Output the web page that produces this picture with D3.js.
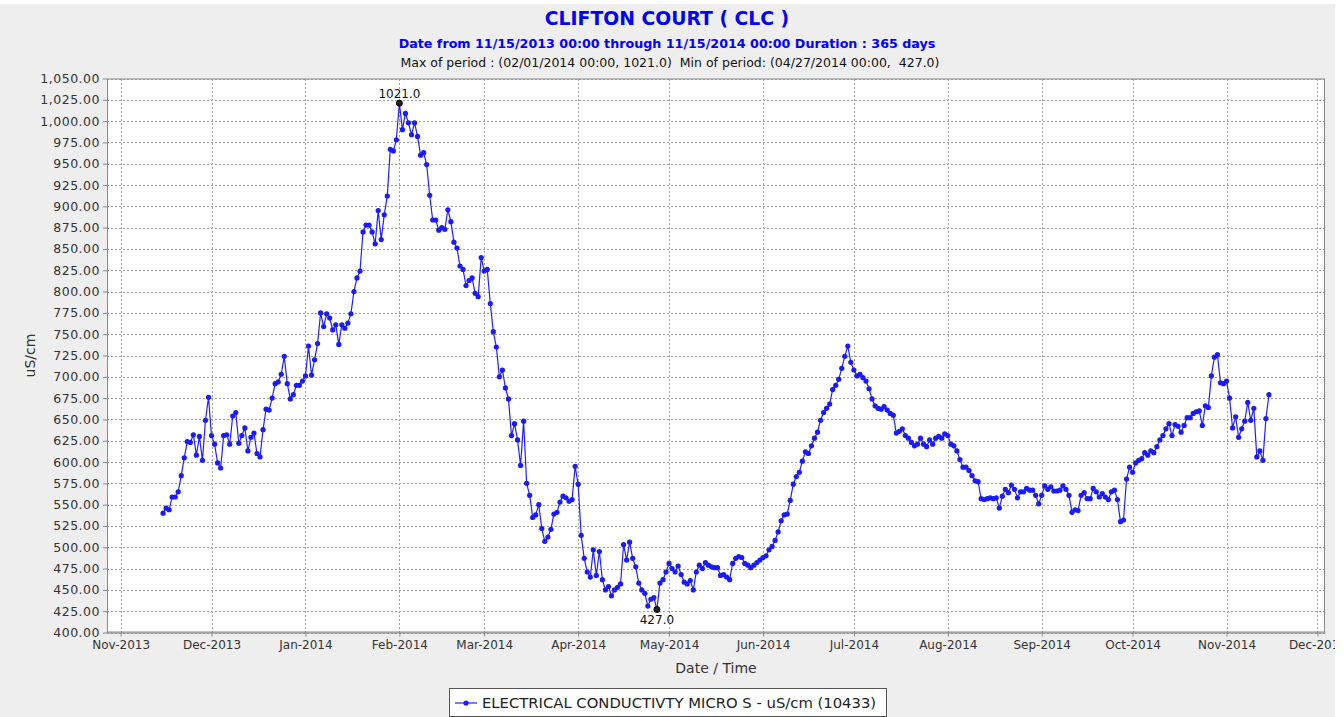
<!DOCTYPE html>
<html>
<head>
<meta charset="utf-8">
<script src="https://cdn.jsdelivr.net/npm/d3@7"></script>
<style>
  body { margin: 0; background: #fff; }
  svg { display: block; font-family: "DejaVu Sans", sans-serif; }
</style>
</head>
<body>
<div id="chart"></div>
<script>
// Daily EC readings (uS/cm), one array per month, first value on the given start day
const nov2013 = [540, 546, 544, 559, 559, 565, 584, 605, 624, 623, 632, 608, 630, 602, 649, 676];
const dec2013 = [631, 621, 599, 593, 631, 632, 621, 654, 658, 622, 631, 640, 613, 629, 634, 610,
                 606, 638, 662, 661, 675, 692, 694, 703, 724, 692, 674, 679, 690, 690, 695];
const jan2014 = [701, 736, 702, 720, 739, 775, 759, 774, 769, 755, 761, 738, 761, 757, 763, 774,
                 800, 816, 824, 870, 878, 878, 870, 856, 895, 861, 890, 912, 967, 965, 978];
const feb2014 = [1021, 990, 1009, 998, 984, 998, 982, 960, 963, 949, 913, 884, 884, 872, 875, 873,
                 896, 882, 858, 851, 830, 826, 807, 813, 816, 798, 794, 840];
const mar2014 = [824, 826, 786, 753, 735, 700, 708, 687, 674, 631, 645, 626, 596, 648, 575, 561,
                 535, 538, 550, 522, 507, 512, 521, 539, 541, 553, 560, 558, 554, 556, 595];
const apr2014 = [574, 514, 487, 471, 465, 497, 467, 495, 462, 450, 454, 443, 450, 453, 457, 503,
                 485, 506, 487, 477, 458, 450, 446, 431, 439, 441, 427, 458, 462, 471];
const may2014 = [481, 475, 471, 478, 468, 459, 457, 461, 450, 471, 479, 475, 482, 479, 477, 476,
                 476, 467, 468, 465, 462, 481, 487, 489, 488, 481, 479, 476, 479, 482, 485];
const jun2014 = [488, 490, 497, 501, 508, 518, 531, 538, 539, 555, 574, 583, 588, 601, 612, 610,
                 619, 628, 635, 649, 658, 663, 668, 685, 690, 697, 710, 724, 736, 717];
const jul2014 = [708, 701, 703, 699, 695, 686, 674, 666, 663, 662, 665, 661, 657, 655, 634, 636,
                 639, 631, 628, 623, 619, 621, 628, 621, 618, 626, 621, 628, 630, 628, 633];
const aug2014 = [631, 621, 619, 613, 603, 594, 594, 590, 584, 578, 577, 557, 556, 557, 558, 557,
                 558, 546, 560, 568, 564, 573, 568, 558, 565, 565, 569, 567, 567, 561, 551];
const sep2014 = [561, 572, 568, 571, 566, 566, 567, 572, 568, 561, 541, 544, 543, 561, 564, 557,
                 557, 569, 565, 559, 563, 559, 556, 565, 567, 556, 530, 532, 580, 594];
const oct2014 = [588, 599, 602, 604, 611, 608, 613, 611, 618, 626, 631, 639, 645, 631, 644, 642,
                 635, 643, 652, 652, 657, 659, 660, 643, 666, 664, 701, 723, 726, 693, 692];
const nov2014 = [695, 675, 640, 653, 629, 639, 648, 670, 649, 663, 606, 613, 602, 651, 679];

const months = [
    { start: "2013-11-15", values: nov2013 },
    { start: "2013-12-01", values: dec2013 },
    { start: "2014-01-01", values: jan2014 },
    { start: "2014-02-01", values: feb2014 },
    { start: "2014-03-01", values: mar2014 },
    { start: "2014-04-01", values: apr2014 },
    { start: "2014-05-01", values: may2014 },
    { start: "2014-06-01", values: jun2014 },
    { start: "2014-07-01", values: jul2014 },
    { start: "2014-08-01", values: aug2014 },
    { start: "2014-09-01", values: sep2014 },
    { start: "2014-10-01", values: oct2014 },
    { start: "2014-11-01", values: nov2014 }
];

const yTicks = d3.range(400, 1051, 25);
const titleText = "CLIFTON COURT ( CLC )";
const subtitleText = "Date from 11/15/2013 00:00 through 11/15/2014 00:00 Duration : 365 days";
const statsText = "Max of period : (02/01/2014 00:00, 1021.0)  Min of period: (04/27/2014 00:00,  427.0)";
const legendText = "ELECTRICAL CONDUCTIVTY MICRO S - uS/cm (10433)";

const parse = d3.timeParse("%Y-%m-%d");
const data = [];
months.forEach(m => {
    const s = parse(m.start);
    m.values.forEach((v, i) => data.push({ date: d3.timeDay.offset(s, i), value: v }));
});

const width = 1344, height = 717;
const plot = { left: 107, top: 78.5, right: 1325, bottom: 632.5 };

const svg = d3.select("#chart").append("svg")
    .attr("width", width)
    .attr("height", height);

// the original image stops at x=1335, the rest is white
svg.append("clipPath").attr("id", "page").append("rect")
    .attr("x", 0).attr("y", 0).attr("width", 1335).attr("height", height);
const page = svg.append("g").attr("clip-path", "url(#page)");

page.append("rect").attr("x", 0).attr("y", 4).attr("width", 1335).attr("height", height - 4)
    .attr("fill", "#eeeeee");

// domain padded ~18.5 days on each side like the original
const x = d3.scaleTime()
    .domain([d3.timeHour.offset(parse("2013-11-15"), -444), d3.timeHour.offset(parse("2014-11-15"), 444)])
    .range([plot.left, plot.right]);
const y = d3.scaleLinear().domain([400, 1050]).range([plot.bottom, plot.top]);

page.append("rect")
    .attr("x", plot.left).attr("y", plot.top)
    .attr("width", plot.right - plot.left).attr("height", plot.bottom - plot.top)
    .attr("fill", "#fff");

// gridlines
const grid = page.append("g").attr("stroke", "#a0a0a0").attr("stroke-width", 1)
    .attr("stroke-dasharray", "2,2").attr("shape-rendering", "crispEdges");
grid.selectAll("line.h").data(yTicks).enter().append("line")
    .attr("x1", plot.left).attr("x2", plot.right)
    .attr("y1", d => Math.round(y(d)) + 0.5).attr("y2", d => Math.round(y(d)) + 0.5);
const monthTicks = x.ticks(d3.timeMonth.every(1));
grid.selectAll("line.v").data(monthTicks).enter().append("line")
    .attr("y1", plot.top).attr("y2", plot.bottom)
    .attr("x1", d => Math.round(x(d)) + 0.5).attr("x2", d => Math.round(x(d)) + 0.5);

// axes
const yAxis = page.append("g")
    .attr("transform", `translate(${plot.left},0)`)
    .call(d3.axisLeft(y).tickValues(yTicks).tickFormat(d3.format(",.2f")).tickSize(4).tickSizeOuter(0).tickPadding(3));
const xAxis = page.append("g")
    .attr("transform", `translate(0,${plot.bottom})`)
    .call(d3.axisBottom(x).ticks(d3.timeMonth.every(1)).tickFormat(d3.timeFormat("%b-%Y")).tickSize(4).tickSizeOuter(0).tickPadding(4));
[yAxis, xAxis].forEach(a => {
    a.selectAll(".domain").attr("stroke", "#888");
    a.selectAll(".tick line").attr("stroke", "#888");
    a.selectAll("text").attr("fill", "#333").style("font-size", "12px").style("font-family", "DejaVu Sans, sans-serif");
});
yAxis.selectAll("text").style("font-size", "12.5px").style("letter-spacing", "0.5px");

page.append("rect")
    .attr("x", plot.left + 0.5).attr("y", plot.top + 0.5)
    .attr("width", plot.right - plot.left - 1).attr("height", plot.bottom - plot.top - 1)
    .attr("fill", "none").attr("stroke", "#888");

// series
const line = d3.line().x(d => x(d.date)).y(d => y(d.value));
page.append("path").datum(data)
    .attr("fill", "none").attr("stroke", "#2020ff").attr("stroke-width", 1.2)
    .attr("d", line);
page.append("g").selectAll("circle").data(data).enter().append("circle")
    .attr("cx", d => x(d.date)).attr("cy", d => y(d.value))
    .attr("r", 2.6).attr("fill", "#1a1aff");

// max / min annotations
const maxPt = data.reduce((a, b) => b.value > a.value ? b : a);
const minPt = data.reduce((a, b) => b.value < a.value ? b : a);
[{ p: maxPt, dy: -5 }, { p: minPt, dy: 15 }].forEach(a => {
    page.append("circle").attr("cx", x(a.p.date)).attr("cy", y(a.p.value)).attr("r", 3)
        .attr("fill", "#222").attr("stroke", "#000");
    page.append("text").attr("x", x(a.p.date)).attr("y", y(a.p.value) + a.dy)
        .attr("text-anchor", "middle").style("font-size", "12px").attr("fill", "#111")
        .text(a.p.value.toFixed(1));
});

// titles
page.append("text").attr("x", 667).attr("y", 25).attr("text-anchor", "middle")
    .attr("fill", "#0000ff").style("font-size", "18.8px").style("font-weight", "bold")
    .text(titleText);
page.append("text").attr("x", 667).attr("y", 48).attr("text-anchor", "middle")
    .attr("fill", "#0000ff").style("font-size", "12.7px").style("font-weight", "bold")
    .text(subtitleText);
page.append("text").attr("x", 670).attr("y", 67).attr("text-anchor", "middle")
    .attr("fill", "#111").style("font-size", "12.5px")
    .attr("xml:space", "preserve")
    .text(statsText);

// axis titles
page.append("text").attr("transform", `translate(35,${(plot.top + plot.bottom) / 2}) rotate(-90)`)
    .attr("text-anchor", "middle").attr("fill", "#333").style("font-size", "14px")
    .text("uS/cm");
page.append("text").attr("x", (plot.left + plot.right) / 2).attr("y", 673)
    .attr("text-anchor", "middle").attr("fill", "#333").style("font-size", "14px")
    .text("Date / Time");

// legend
const lg = page.append("g");
lg.append("rect").attr("x", 449.5).attr("y", 688.5).attr("width", 437).attr("height", 28)
    .attr("fill", "#fff").attr("stroke", "#555");
lg.append("line").attr("x1", 455).attr("x2", 477).attr("y1", 703).attr("y2", 703)
    .attr("stroke", "#2020ff").attr("stroke-width", 1.2);
lg.append("circle").attr("cx", 466).attr("cy", 703).attr("r", 2.6).attr("fill", "#1a1aff");
lg.append("text").attr("x", 482).attr("y", 708).attr("fill", "#222")
    .style("font-size", "14.8px")
    .text(legendText);
</script>
</body>
</html>
